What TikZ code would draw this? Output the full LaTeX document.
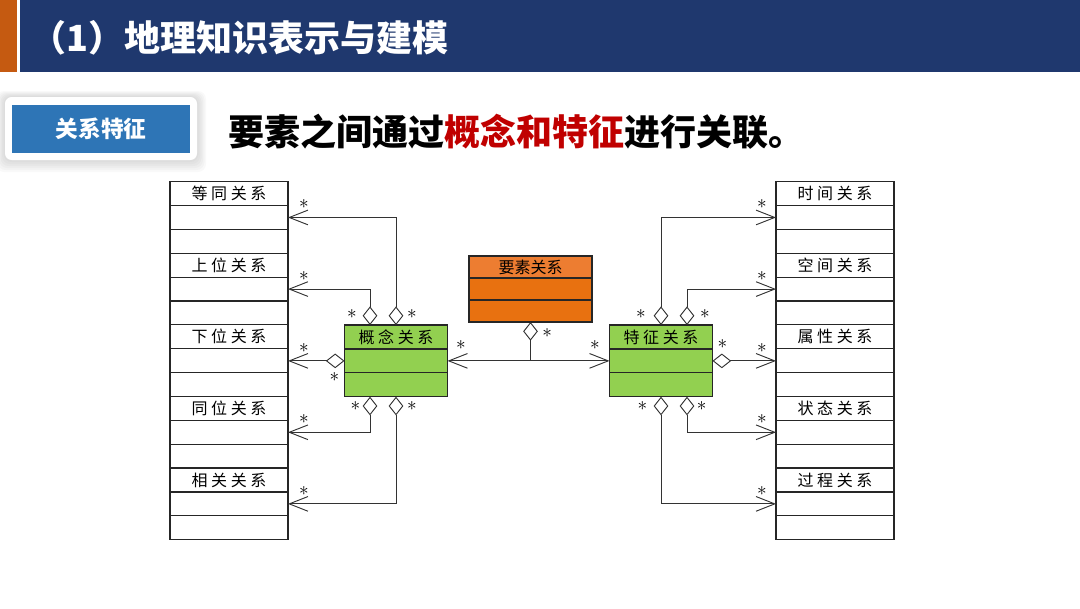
\documentclass[tikz,border=0pt]{standalone}
\usepackage{fontspec}
\newfontfamily\cjk{Noto Sans CJK SC}
\usetikzlibrary{positioning,calc,arrows.meta}
\definecolor{hdblue}{RGB}{31,56,110}
\definecolor{hdorange}{RGB}{197,90,17}
\definecolor{btnblue}{RGB}{46,117,182}
\definecolor{clsgreen}{RGB}{146,208,80}
\definecolor{clsorange}{RGB}{237,125,49}
\definecolor{clsorangedk}{RGB}{232,113,16}
\definecolor{darkred}{RGB}{192,0,0}
\begin{document}
\begin{tikzpicture}[x=0.75pt,y=-0.75pt,
    cls/.style={draw=black!85, line width=0.9pt, minimum width=88.5pt, minimum height=17.9pt,
        inner sep=0pt, outer sep=0pt, font=\cjk\fontsize{12}{12}\selectfont},
    gcls/.style={cls, fill=clsgreen, minimum width=77.25pt},
    ocls/.style={cls, fill=clsorangedk, minimum width=92.25pt, minimum height=16.5pt},
    link/.style={line width=0.7pt, draw=black!80},
    agg/.style={link, {Diamond[open, length=14pt, width=11pt]}-{Straight Barb[length=14pt, width=11pt]}},
    dia/.style={link, {Diamond[open, length=14pt, width=11pt]}-},
    both/.style={link, {Straight Barb[length=14pt, width=11pt]}-{Straight Barb[length=14pt, width=11pt]}},
    ast/.style={inner sep=0pt, font=\fontsize{15}{15}\selectfont}
]
\useasboundingbox (0,0) rectangle (1080,608);

% header
\fill[hdorange] (0,0) rectangle (17,72);
\fill[hdblue] (20,0) rectangle (1080,72);
\node[anchor=west, text=white, font=\cjk\bfseries\fontsize{27}{27}\selectfont] (title) at (26,38) {（1）地理知识表示与建模};

% tag and headline
\foreach \k in {1,...,6}{
    \fill[black, opacity=0.025, rounded corners=6pt] (5-\k*1.5,97-\k) rectangle (197+\k*1.5,160+\k*2);
}
\fill[white, rounded corners=5pt] (5,97) rectangle (197,160);
\node[fill=btnblue, minimum width=133.5pt, minimum height=36pt, text=white,
    font=\cjk\bfseries\fontsize{17}{17}\selectfont] (tag) at (101,129) {关系特征};
\node[anchor=west, font=\cjk\bfseries\fontsize{27}{27}\selectfont] (head) at (224,132)
    {要素之间通过\textcolor{darkred}{概念和特征}进行关联。};

% class boxes left and right
\foreach \nm/\lab [count=\i from 0] in {dt/等 同 关 系, sw/上 位 关 系, xw/下 位 关 系, tw/同 位 关 系, xg/相 关 关 系}{
    \node[cls] (\nm) at (229,193.6+71.6*\i) {\lab};
    \node[cls, below=0pt of \nm] (\nm-a) {};
    \node[cls, below=0pt of \nm-a] (\nm-b) {};
}
\foreach \nm/\lab [count=\i from 0] in {sj/时 间 关 系, kj/空 间 关 系, sx/属 性 关 系, zt/状 态 关 系, gc/过 程 关 系}{
    \node[cls] (\nm) at (835,193.6+71.6*\i) {\lab};
    \node[cls, below=0pt of \nm] (\nm-a) {};
    \node[cls, below=0pt of \nm-a] (\nm-b) {};
}

% centre classes
\node[ocls, fill=clsorange] (ys) at (530.5,267) {要素关系};
\node[ocls, below=0pt of ys] (ys-a) {};
\node[ocls, below=0pt of ys-a] (ys-b) {};

\node[gcls] (ck) at (396,337) {概 念 关 系};
\node[gcls, below=0pt of ck] (ck-a) {};
\node[gcls, below=0pt of ck-a] (ck-b) {};

\node[gcls] (tz) at (661,337) {特 征 关 系};
\node[gcls, below=0pt of tz] (tz-a) {};
\node[gcls, below=0pt of tz-a] (tz-b) {};

% concept links
\draw[agg] (ck.north) node[ast, xshift=12pt, yshift=8pt] {$\ast$}
    |- (dt-a.east) node[ast, xshift=12pt, yshift=10pt] {$\ast$};
\draw[agg] ($(ck.north)+(-26,0)$) node[ast, xshift=-13.5pt, yshift=8pt] {$\ast$}
    |- (sw-a.east) node[ast, xshift=12pt, yshift=10pt] {$\ast$};
\draw[agg] (ck-a.west) node[ast, xshift=-7.5pt, yshift=-12pt] {$\ast$}
    -- (ck-a.west -| xw-a.east) node[ast, xshift=12pt, yshift=10pt] {$\ast$};
\draw[agg] ($(ck-b.south)+(-26,0)$) node[ast, xshift=-11pt, yshift=-7pt] {$\ast$}
    |- (tw-a.east) node[ast, xshift=12pt, yshift=10pt] {$\ast$};
\draw[agg] (ck-b.south) node[ast, xshift=12pt, yshift=-7pt] {$\ast$}
    |- (xg-a.east) node[ast, xshift=12pt, yshift=10pt] {$\ast$};

% feature links
\draw[agg] (tz.north) node[ast, xshift=-15pt, yshift=8pt] {$\ast$}
    |- (sj-a.west) node[ast, xshift=-10.5pt, yshift=10pt] {$\ast$};
\draw[agg] ($(tz.north)+(26,0)$) node[ast, xshift=13.5pt, yshift=8pt] {$\ast$}
    |- (kj-a.west) node[ast, xshift=-10.5pt, yshift=10pt] {$\ast$};
\draw[agg] (tz-a.east) node[ast, xshift=7.5pt, yshift=13pt] {$\ast$}
    -- (tz-a.east -| sx-a.west) node[ast, xshift=-10.5pt, yshift=10pt] {$\ast$};
\draw[agg] ($(tz-b.south)+(26,0)$) node[ast, xshift=11pt, yshift=-7pt] {$\ast$}
    |- (zt-a.west) node[ast, xshift=-10.5pt, yshift=10pt] {$\ast$};
\draw[agg] (tz-b.south) node[ast, xshift=-14pt, yshift=-7pt] {$\ast$}
    |- (gc-a.west) node[ast, xshift=-10.5pt, yshift=10pt] {$\ast$};

% element link
\draw[dia] (ys-b.south) node[ast, xshift=12.5pt, yshift=-8pt] {$\ast$}
    -- (ys-b.south |- ck-a.east);
\draw[both] (ck-a.east) node[ast, xshift=10pt, yshift=12pt] {$\ast$}
    -- (tz-a.west) node[ast, xshift=-11pt, yshift=12pt] {$\ast$};

\end{tikzpicture}
\end{document}
